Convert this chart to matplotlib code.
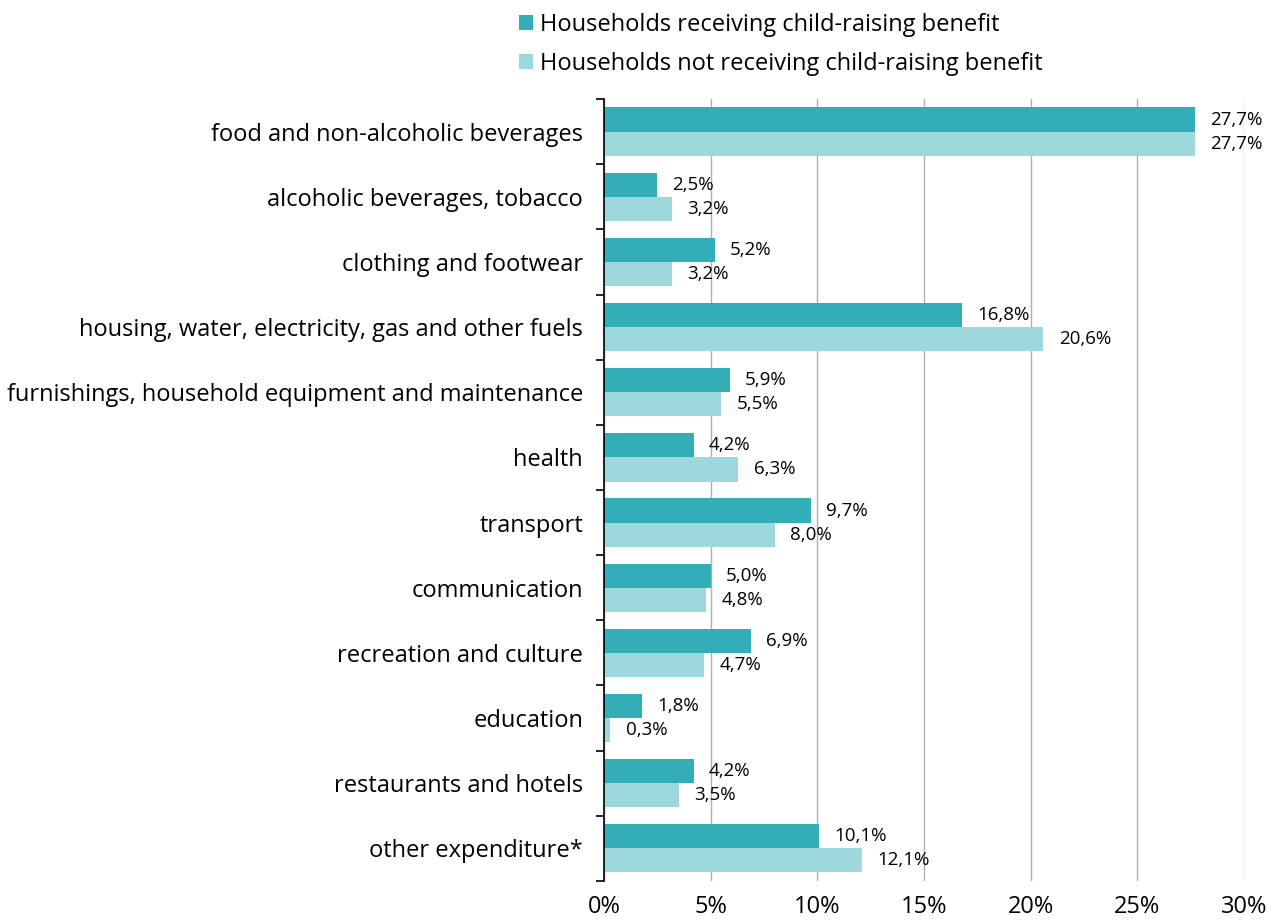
import numpy as np
import matplotlib.pyplot as plt

plt.rcParams['font.family'] = ['Open Sans', 'DejaVu Sans']

cats = ["food and non-alcoholic beverages", "alcoholic beverages, tobacco",
        "clothing and footwear", "housing, water, electricity, gas and other fuels",
        "furnishings, household equipment and maintenance", "health", "transport",
        "communication", "recreation and culture", "education",
        "restaurants and hotels", "other expenditure*"]
recv = [27.7, 2.5, 5.2, 16.8, 5.9, 4.2, 9.7, 5.0, 6.9, 1.8, 4.2, 10.1]
notrecv = [27.7, 3.2, 3.2, 20.6, 5.5, 6.3, 8.0, 4.8, 4.7, 0.3, 3.5, 12.1]

c1 = '#33adb8'
c2 = '#9dd8dc'

fig = plt.figure(figsize=(12.68, 9.22), dpi=100)
ax = fig.add_axes([0.4763, 0.0445, 0.5047, 0.8481])

y = np.arange(len(cats))
h = 0.37
b1 = ax.barh(y - h/2, recv, height=h, color=c1, label='Households receiving child-raising benefit', zorder=3)
b2 = ax.barh(y + h/2, notrecv, height=h, color=c2, label='Households not receiving child-raising benefit', zorder=3)

for i in range(len(cats)):
    ax.annotate(f"{recv[i]:.1f}%".replace('.', ','), (recv[i], y[i] - h/2), xytext=(11, 0),
                textcoords='offset points', va='center', ha='left', fontsize=13.5)
    ax.annotate(f"{notrecv[i]:.1f}%".replace('.', ','), (notrecv[i], y[i] + h/2), xytext=(11, 0),
                textcoords='offset points', va='center', ha='left', fontsize=13.5)

ax.set_ylim(len(cats) - 0.5, -0.5)
ax.set_xlim(0, 30)
ax.set_yticks(y)
ax.set_yticklabels(cats, fontsize=17)
ax.set_yticks(np.arange(-0.5, len(cats), 1), minor=True)
ax.tick_params(axis='y', which='major', length=0, pad=15)
ax.tick_params(axis='y', which='minor', length=6, width=1.2, color='black')
ax.set_xticks(np.arange(0, 31, 5))
ax.set_xticklabels([f"{v}%" for v in range(0, 31, 5)], fontsize=17)
ax.tick_params(axis='x', length=0, pad=10)
ax.grid(axis='x', color='#b0b0b0', linewidth=1, zorder=0)
for s in ['top', 'right', 'bottom']:
    ax.spines[s].set_visible(False)
ax.spines['left'].set_linewidth(1.2)
ax.spines['left'].set_zorder(4)

fig.legend(handles=[b1, b2], loc='upper left', bbox_to_anchor=(0.3925, 1.009), frameon=False,
           fontsize=17, handlelength=0.6, handleheight=0.6, handletextpad=0.3, labelspacing=0.65)

fig.savefig('out.png', dpi=100)
